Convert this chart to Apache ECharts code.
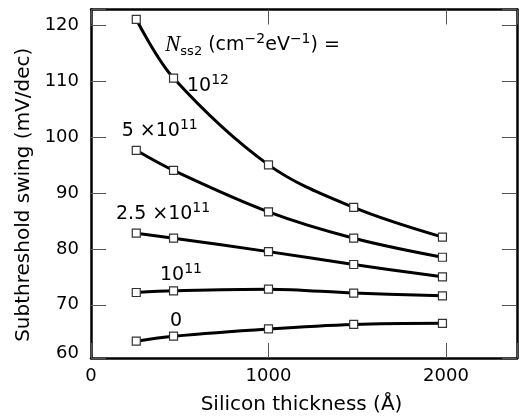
<!DOCTYPE html>
<html><head><meta charset="utf-8">
<script src="https://cdn.jsdelivr.net/npm/echarts@6/dist/echarts.min.js"></script>
<style>html,body{margin:0;padding:0;background:#fff}#c{width:520px;height:420px}</style>
</head><body><div id="c"></div>
<script>
// ---- data ----
const thickness = [255, 465, 1000, 1480, 1980];          // silicon thickness (Å)
const swing_1e12   = [121.0, 110.5, 95.0, 87.4, 82.1];
const swing_5e11   = [97.6, 94.0, 86.6, 81.9, 78.5];
const swing_2_5e11 = [82.8, 81.9, 79.5, 77.2, 75.0];
const swing_1e11   = [72.2, 72.5, 72.8, 72.1, 71.6];
const swing_0      = [63.5, 64.4, 65.7, 66.5, 66.7];
const xTickLabels = [0, 1000, 2000];
const yTickLabels = [60, 70, 80, 90, 100, 110, 120];

const F = 'DejaVu Sans';
const chart = echarts.init(document.getElementById('c'), null, {renderer: 'canvas'});
function pairs(ys) { return thickness.map((x, i) => [x, ys[i]]); }
function mk(name, ys) {
  return {
    name, type: 'line', data: pairs(ys), smooth: 0.35,
    lineStyle: {color: '#000', width: 3},
    symbol: 'rect', symbolSize: 8, showSymbol: true,
    itemStyle: {color: '#fff', borderColor: '#333', borderWidth: 1.2},
    emphasis: {disabled: true}, animation: false, z: 3
  };
}
const tickStyle = {show: true, inside: true, length: 15, lineStyle: {color: '#555', width: 1}};
const lineStyle = {show: true, onZero: false, lineStyle: {color: '#000', width: 2.5}};
const yFmt = v => {
  const r = Math.round(v / 10) * 10;
  if (Math.abs(v - r) < 1 && yTickLabels.includes(r)) return r === 60 ? '{lo|60}' : String(r);
  return '';
};
const xFmt = v => xTickLabels.includes(v) ? String(v) : '';

const sup = {fontSize: 14, fontFamily: F, fill: '#000', padding: [0, 0, 12, 0], verticalAlign: 'middle'};
const base = {fontSize: 19, fontFamily: F, fill: '#000', verticalAlign: 'middle'};
function ann(x, y, text) {
  return {type: 'text', x, y, z: 10, silent: true,
    style: {text, rich: {b: base, s: sup,
      n: {fontSize: 23, fontFamily: 'Liberation Serif', fontStyle: 'italic', fill: '#000', verticalAlign: 'middle'},
      sub: {fontSize: 13, fontFamily: F, fill: '#000', padding: [14, 0, 0, 0], verticalAlign: 'middle'}},
      fontSize: 19, fontFamily: F, fill: '#000',
      align: 'left', textAlign: 'left', verticalAlign: 'middle', textVerticalAlign: 'middle'}};
}

chart.setOption({
  animation: false,
  backgroundColor: '#fff',
  grid: {left: 91, right: 1.5, top: 9.5, bottom: 58, containLabel: false},
  xAxis: [
    {type: 'value', position: 'bottom', min: 0, max: 2400, interval: 1000,
     name: 'Silicon thickness (Å)', nameLocation: 'middle', nameGap: 37,
     nameTextStyle: {fontFamily: F, fontSize: 20, color: '#000', padding: [0, 5, 0, 0]},
     axisLine: lineStyle, axisTick: tickStyle, splitLine: {show: false},
     axisLabel: {formatter: xFmt, fontFamily: F, fontSize: 18, color: '#000', margin: 9}},
    {type: 'value', position: 'top', min: 0, max: 2400, interval: 1000,
     axisLine: lineStyle, axisTick: tickStyle, splitLine: {show: false}, axisLabel: {show: false}}
  ],
  yAxis: [
    {type: 'value', position: 'left', min: 60.5, max: 122.75, splitNumber: 5,
     name: 'Subthreshold swing (mV/dec)', nameLocation: 'middle', nameGap: 57,
     nameTextStyle: {fontFamily: F, fontSize: 20, color: '#000', padding: [0, 22, 0, 0]},
     axisLine: lineStyle, axisTick: tickStyle, splitLine: {show: false},
     axisLabel: {formatter: yFmt, fontFamily: F, fontSize: 18, color: '#000', margin: 12,
       rich: {lo: {fontFamily: F, fontSize: 18, color: '#000', padding: [0, 0, 10, 0]}}}},
    {type: 'value', position: 'right', min: 60.5, max: 122.75, splitNumber: 5,
     axisLine: lineStyle, axisTick: tickStyle, splitLine: {show: false}, axisLabel: {show: false}}
  ],
  series: [
    mk('1e12', swing_1e12), mk('5e11', swing_5e11), mk('2.5e11', swing_2_5e11),
    mk('1e11', swing_1e11), mk('0', swing_0)
  ],
  graphic: [
    ann(165, 45, '{n|N}{sub|ss2}{b| (cm}{s|\u22122}{b|eV}{s|\u22121}{b|) =}'),
    ann(187, 86.5, '{b|10}{s|12}'),
    ann(121.7, 131.5, '{b|5 ×10}{s|11}'),
    ann(116, 214.5, '{b|2.5 ×10}{s|11}'),
    ann(160, 275, '{b|10}{s|11}'),
    ann(170, 321.5, '{b|0}')
  ]
});
</script>
</body></html>
